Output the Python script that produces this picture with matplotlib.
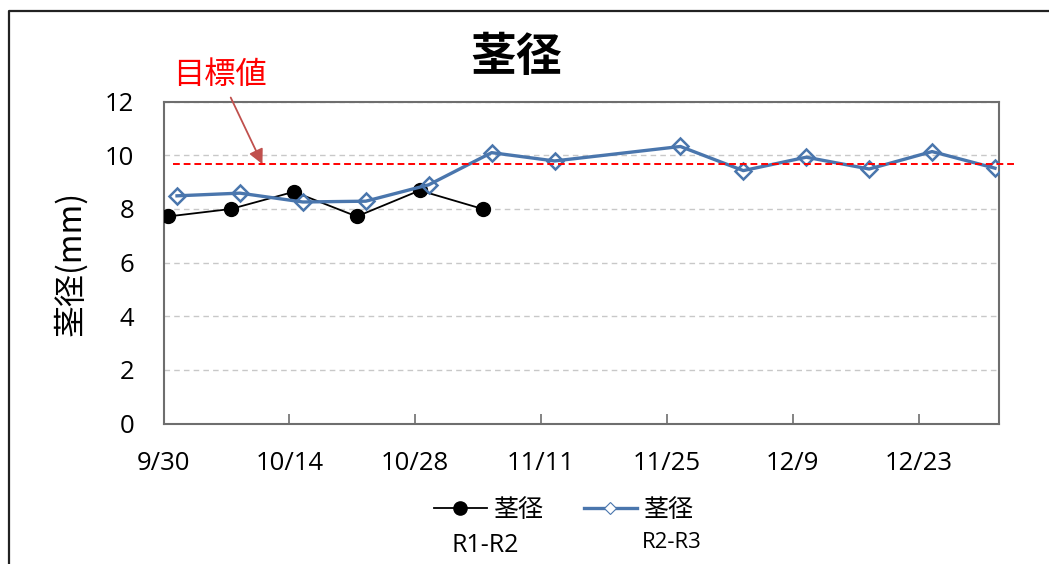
import numpy as np
import pandas as pd
import matplotlib
matplotlib.use("Agg")
import matplotlib.pyplot as plt
from matplotlib.lines import Line2D

plt.rcParams['font.family'] = ['Open Sans', 'Noto Sans CJK JP', 'DejaVu Sans']

# data
r1_dates = ["2021-09-30", "2021-10-07", "2021-10-14", "2021-10-21", "2021-10-28", "2021-11-04"]
r1_values = [7.72, 8.0, 8.64, 7.72, 8.69, 8.0]

r2_dates = ["2021-10-01", "2021-10-08", "2021-10-15", "2021-10-22", "2021-10-29", "2021-11-05",
            "2021-11-12", "2021-11-26", "2021-12-03", "2021-12-10", "2021-12-17", "2021-12-24",
            "2021-12-31"]
r2_values = [8.49, 8.59, 8.26, 8.29, 8.9, 10.1, 9.79, 10.33, 9.43, 9.93, 9.49, 10.14, 9.52]

target = 9.67
target_span = ["2021-10-01", "2022-01-03"]
arrow_date = "2021-10-11"

tick_dates = ["2021-09-30", "2021-10-14", "2021-10-28", "2021-11-11", "2021-11-25",
              "2021-12-09", "2021-12-23"]
tick_labels = ["9/30", "10/14", "10/28", "11/11", "11/25", "12/9", "12/23"]
x_range = ["2021-09-30", "2022-01-01"]

cjk = ['Noto Sans CJK JP', 'DejaVu Sans']
blue = "#4A76AD"

fig = plt.figure(figsize=(10.49, 5.64), dpi=100)
ax = fig.add_axes([0.1559, 0.2491, 0.7969, 0.5706])

# excel date axis puts points in the middle of the day
half_day = pd.Timedelta(hours=12)
x1 = pd.to_datetime(r1_dates) + half_day
x2 = pd.to_datetime(r2_dates) + half_day

ax.plot(x1, r1_values, color="black", lw=1.3, marker="o", ms=10, zorder=3)
ax.plot(x2, r2_values, color=blue, lw=2.4, marker="D", ms=8, mfc="none",
        mec=blue, mew=1.8, zorder=4)

# target line (runs a bit past the plot area like in the original)
ax.plot(pd.to_datetime(target_span), [target, target], color="red", lw=1.4,
        ls=(0, (3.5, 2)), clip_on=False, zorder=5)

ax.set_xlim(pd.to_datetime(x_range))
ax.set_ylim(0, 12)
ax.set_yticks(np.arange(0, 13, 2))
ax.set_xticks(pd.to_datetime(tick_dates))
ax.set_xticklabels(tick_labels)

ax.grid(axis="y", color="#C8C8C8", ls=(0, (4, 3)), lw=1)
ax.set_axisbelow(True)
ax.tick_params(axis="x", direction="in", length=7, width=1.2, color="#6E6E6E",
               labelsize=18.5, pad=20)
ax.tick_params(axis="y", length=0, labelsize=18.5, pad=21)
for s in ax.spines.values():
    s.set_color("#6E6E6E")
    s.set_linewidth(1.5)

fig.text(516 / 1049, 1 - 58 / 564, "茎径", family=cjk, fontsize=33,
         fontweight="bold", ha="center", va="center")
fig.text(70 / 1049, 1 - 263 / 564, "茎径(mm)", family=cjk, fontsize=23,
         rotation=90, ha="center", va="center")

ax.annotate("目標値", xy=(pd.to_datetime(arrow_date), target),
            xytext=(220 / 1049, 1 - 75 / 564), textcoords="figure fraction",
            family=cjk, fontsize=22.5, color="red", ha="center", va="center",
            arrowprops=dict(arrowstyle="-|>", color="#C0504D", lw=1.3,
                            mutation_scale=22, shrinkA=3, shrinkB=0))

handles = [
    Line2D([], [], color="black", lw=1.3, marker="o", ms=9.5),
    Line2D([], [], color=blue, lw=2.4, marker="D", ms=6, mfc="white", mec=blue, mew=0.8),
]
fig.legend(handles, ["茎径", "茎径"], loc="center",
           bbox_to_anchor=(564 / 1049, 1 - 510 / 564), ncol=2, frameon=False,
           prop={"family": cjk, "size": 18}, handlelength=2.1, handletextpad=0.3,
           columnspacing=1.6)
fig.text(485 / 1049, 1 - 545 / 564, "R1-R2", fontsize=18, ha="center", va="center")
fig.text(672 / 1049, 1 - 543 / 564, "R2-R3", fontsize=16, ha="center", va="center")

# outer frame, cut off on the right and bottom
fx = 8.5 / 1049
fy = 1 - 10.7 / 564
fig.add_artist(Line2D([fx, fx, 1.0], [0.0, fy, fy], transform=fig.transFigure,
                      color="#222222", lw=1.6))

fig.savefig("out.png", dpi=100)
